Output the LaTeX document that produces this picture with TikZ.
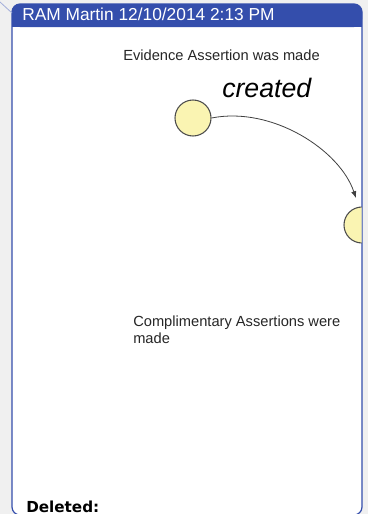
\documentclass[tikz,border=0pt]{standalone}
\usepackage{fontspec}
\setmainfont{Liberation Sans}
\newfontfamily\delfont{DejaVu Sans}
\usetikzlibrary{arrows.meta}
\definecolor{barblue}{RGB}{52,78,172}
\definecolor{paleyellow}{RGB}{250,244,178}
\definecolor{pagegray}{RGB}{240,240,240}
\begin{document}
\begin{tikzpicture}
[x=0.75pt,y=-0.75pt%
,every node/.style={inner sep=0pt,%
	anchor=base west}%
,state/.style={circle,%
	anchor=center,%
	fill=paleyellow,%
	draw=black!70,%
	line width=0.8pt,%
	minimum size=27pt}%
,note/.style={font=\fontsize{11}{12.75}\selectfont,%
	text=black!85}]
\fill[pagegray] (0,0) rectangle (368,514);
\useasboundingbox (0,0) rectangle (368,514);
% comment box
\draw[barblue,line width=0.9pt,fill=white,rounded corners=6pt] (12,4) rectangle (362,515);
\fill[barblue,rounded corners=6pt] (12,4) rectangle (362,27);
\fill[barblue] (12,16) rectangle (362,27);
\coordinate (boxcorner) at (12,13);
\coordinate (pin) at (0,2);
\draw[barblue!45,line width=0.6pt] (pin) -- (boxcorner);
\node[text=white,font=\fontsize{13}{15}\selectfont] (title) at (22,21) {RAM Martin 12/10/2014 2:13 PM};
% pasted diagram
\node[note] (evid) at (123,60) {Evidence Assertion was made};
\node[font=\fontsize{20}{24}\selectfont\itshape] (created) at (222,97) {created};
\begin{scope}
\clip (12,27) rectangle (361.5,515);
\node[state] (made) at (193,118) {};
\node[state] (compl) at (362,225) {};
\draw[black!75,line width=0.6pt,-{Latex[length=5pt,width=4pt]},shorten >=7pt]
	(made.east) .. controls (272,106) and (340,150) .. (compl.100);
\end{scope}
\node[note,anchor=north west,align=left] (complnote) at (133,316) {Complimentary Assertions were\\made};
\node[font=\delfont\fontsize{11.4}{13}\selectfont\bfseries] (deleted) at (26,512) {Deleted:};
\end{tikzpicture}
\end{document}
